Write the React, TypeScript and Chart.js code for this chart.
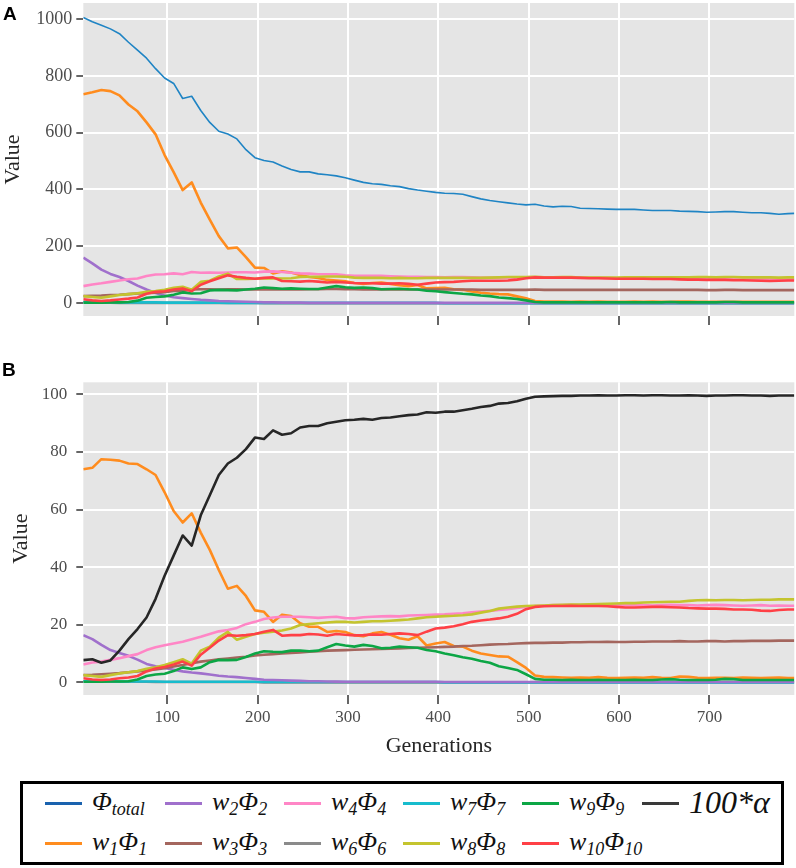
import React, { useEffect, useRef } from 'react';
import { Chart, registerables, Plugin } from 'chart.js';

Chart.register(...registerables);

// generations sampled along the x axis
const GENS = [
  7, 17, 27, 37, 47, 57, 67, 77, 87, 97,
  107, 117, 127, 137, 147, 157, 167, 177, 187, 197,
  207, 217, 227, 237, 247, 257, 267, 277, 287, 297,
  307, 317, 327, 337, 347, 357, 367, 377, 387, 397,
  407, 417, 427, 437, 447, 457, 467, 477, 487, 497,
  507, 517, 527, 537, 547, 557, 567, 577, 587, 597,
  607, 617, 627, 637, 647, 657, 667, 677, 687, 697,
  707, 717, 727, 737, 747, 757, 767, 777, 787, 794,
];

const X_TICKS = [100, 200, 300, 400, 500, 600, 700];

// ---- panel A : absolute values ----
const A_PHI_TOTAL = [
  1005, 990, 978, 965, 948, 918, 890, 862, 825, 792,
  773, 720, 728, 678, 636, 605, 595, 578, 540, 512,
  502, 497, 483, 470, 462, 462, 455, 452, 448, 441,
  433, 425, 420, 418, 413, 410, 403, 398, 394, 390,
  387, 386, 383, 375, 367, 361, 357, 353, 349, 346,
  348, 342, 339, 341, 340, 334, 333, 332, 331, 330,
  330, 330, 328, 326, 326, 326, 324, 323, 322, 320,
  321, 322, 322, 320, 318, 318, 316, 313, 315, 316,
];
const A_W1 = [
  735, 742, 750, 746, 731, 699, 675, 636, 594, 521,
  461, 398, 425, 354, 294, 236, 193, 196, 162, 125,
  124, 105, 112, 108, 99, 92, 89, 82, 80, 77,
  71, 68, 71, 73, 68, 63, 60, 64, 52, 53,
  54, 49, 47, 41, 37, 34, 32, 31, 24, 17,
  8, 6, 6, 6, 5, 6, 5, 6, 5, 5,
  5, 6, 5, 6, 5, 5, 6, 6, 5, 5,
  5, 5, 5, 5, 5, 5, 5, 5, 5, 5,
];
const A_W2 = [
  160, 140, 118, 103, 92, 78, 62, 48, 36, 27,
  21, 18, 15, 12, 10, 8, 7, 6, 5, 4,
  3, 3, 2, 2, 2, 1, 1, 1, 1, 1,
  1, 1, 1, 1, 1, 1, 1, 1, 1, 1,
  1, 1, 1, 1, 1, 1, 1, 1, 1, 1,
  1, 1, 1, 1, 1, 1, 1, 1, 1, 1,
  1, 1, 1, 1, 1, 1, 1, 1, 1, 1,
  1, 1, 1, 1, 1, 1, 1, 1, 1, 1,
];
const A_W3 = [
  25, 26, 27, 29, 30, 32, 34, 35, 37, 39,
  43, 43, 48, 49, 49, 48, 49, 49, 48, 48,
  48, 49, 48, 48, 48, 49, 49, 50, 50, 49,
  49, 48, 48, 48, 48, 48, 48, 48, 48, 48,
  48, 48, 48, 48, 47, 47, 47, 47, 47, 47,
  48, 47, 47, 47, 47, 47, 47, 47, 47, 47,
  47, 47, 47, 47, 47, 47, 47, 47, 47, 46,
  46, 47, 47, 46, 46, 46, 46, 46, 46, 46,
];
const A_W4 = [
  60, 66, 70, 75, 80, 84, 87, 96, 101, 102,
  105, 102, 110, 107, 108, 107, 108, 109, 109, 108,
  111, 112, 110, 107, 105, 104, 102, 102, 102, 98,
  96, 96, 96, 96, 95, 94, 93, 93, 92, 92,
  91, 92, 92, 91, 90, 90, 90, 90, 90, 91,
  92, 91, 91, 91, 91, 90, 90, 90, 89, 88,
  88, 88, 88, 87, 87, 88, 87, 87, 86, 86,
  86, 86, 86, 85, 85, 85, 84, 83, 84, 84,
];
const A_W6 = [
  2, 2, 2, 2, 1, 1, 1, 1, 1, 1,
  1, 1, 1, 1, 1, 1, 1, 1, 1, 1,
  0, 0, 0, 0, 0, 0, 0, 0, 0, 0,
  0, 0, 0, 0, 0, 0, 0, 0, 0, 0,
  0, 0, 0, 0, 0, 0, 0, 0, 0, 0,
  0, 0, 0, 0, 0, 0, 0, 0, 0, 0,
  0, 0, 0, 0, 0, 0, 0, 0, 0, 0,
  0, 0, 0, 0, 0, 0, 0, 0, 0, 0,
];
const A_W7 = [
  4, 4, 4, 4, 3, 3, 3, 3, 3, 2,
  2, 2, 2, 2, 2, 2, 1, 1, 1, 1,
  1, 1, 1, 1, 1, 1, 1, 1, 1, 1,
  1, 1, 1, 1, 1, 1, 1, 1, 1, 1,
  0, 0, 0, 0, 0, 0, 0, 0, 0, 0,
  0, 0, 0, 0, 0, 0, 0, 0, 0, 0,
  0, 0, 0, 0, 0, 0, 0, 0, 0, 0,
  0, 0, 0, 0, 0, 0, 0, 0, 0, 0,
];
const A_W8 = [
  25, 22, 19, 24, 29, 32, 35, 40, 43, 47,
  54, 58, 47, 75, 79, 94, 104, 85, 85, 86,
  87, 88, 87, 88, 92, 93, 93, 94, 94, 93,
  90, 89, 89, 89, 88, 89, 88, 88, 89, 89,
  89, 89, 89, 89, 89, 90, 91, 92, 92, 92,
  93, 91, 91, 92, 92, 90, 90, 90, 90, 90,
  91, 91, 91, 91, 91, 91, 91, 91, 92, 92,
  91, 92, 92, 91, 91, 91, 91, 90, 91, 91,
];
const A_W9 = [
  2, 2, 2, 3, 3, 4, 9, 19, 22, 24,
  30, 38, 34, 35, 45, 47, 46, 45, 48, 51,
  55, 53, 51, 52, 51, 50, 50, 55, 60, 56,
  54, 55, 53, 49, 50, 51, 49, 48, 44, 42,
  39, 36, 33, 31, 27, 25, 20, 18, 15, 10,
  4, 3, 3, 3, 3, 3, 3, 3, 3, 3,
  3, 3, 3, 3, 3, 4, 3, 3, 3, 3,
  3, 4, 4, 3, 3, 3, 3, 3, 3, 3,
];
const A_W10 = [
  14, 10, 8, 10, 13, 16, 20, 33, 40, 42,
  48, 52, 42, 65, 77, 88, 98, 93, 89, 86,
  89, 91, 78, 77, 76, 78, 76, 73, 75, 73,
  71, 70, 70, 69, 69, 70, 68, 65, 69, 73,
  74, 75, 77, 79, 79, 79, 79, 80, 83, 88,
  91, 90, 90, 90, 90, 89, 88, 88, 87, 86,
  86, 86, 86, 85, 85, 85, 84, 83, 83, 82,
  82, 82, 81, 81, 80, 79, 78, 79, 80, 80,
];

// ---- panel B : share of the total (%) and 100*alpha ----
const B_W1 = [
  74, 74.5, 77.5, 77.3, 77, 76, 75.8, 74, 72, 66,
  59.5, 55.5, 58.7, 52, 46, 39, 32.5, 33.5, 30, 25,
  24.5, 21, 23.5, 23, 20.5, 19.3, 19.3, 17.5, 17.8, 17.5,
  16.4, 16, 17, 17.5, 16.5, 15.3, 14.8, 16, 12.8, 13.5,
  14, 12.6, 12.4, 11, 10, 9.5, 9, 8.9, 7, 5,
  2.4, 1.9, 1.8, 1.7, 1.6, 1.7, 1.6, 1.8, 1.6, 1.5,
  1.6, 1.7, 1.6, 1.8, 1.6, 1.5, 2.0, 1.9, 1.6, 1.5,
  1.6, 1.6, 1.5, 1.7, 1.6, 1.5, 1.6, 1.7, 1.5, 1.5,
];
const B_W2 = [
  16.4, 15, 13, 11.2, 10.2, 9.2, 7.9, 6.4, 5.6, 5.0,
  4.4, 3.8, 3.4, 3.1, 2.7, 2.3, 2.0, 1.8, 1.5, 1.2,
  0.9, 0.8, 0.7, 0.6, 0.5, 0.4, 0.35, 0.3, 0.25, 0.2,
  0.2, 0.2, 0.2, 0.2, 0.2, 0.2, 0.2, 0.2, 0.2, 0.2,
  0.1, 0.1, 0.1, 0.1, 0.1, 0.1, 0.1, 0.1, 0.1, 0.1,
  0.1, 0.1, 0.1, 0.1, 0.1, 0.1, 0.1, 0.1, 0.1, 0.1,
  0.1, 0.1, 0.1, 0.1, 0.1, 0.1, 0.1, 0.1, 0.1, 0.1,
  0.1, 0.1, 0.1, 0.1, 0.1, 0.1, 0.1, 0.1, 0.1, 0.1,
];
const B_W3 = [
  2.5, 2.6, 2.8, 3.0, 3.2, 3.5, 3.8, 4.1, 4.5, 4.9,
  5.5, 6.0, 6.6, 7.2, 7.6, 8.0, 8.3, 8.6, 8.9, 9.3,
  9.6, 9.8, 10, 10.2, 10.4, 10.6, 10.8, 11, 11.1, 11.2,
  11.3, 11.4, 11.5, 11.6, 11.7, 11.8, 11.9, 12, 12.1, 12.2,
  12.3, 12.4, 12.6, 12.7, 12.9, 13.1, 13.2, 13.3, 13.5, 13.6,
  13.7, 13.7, 13.8, 13.8, 13.9, 13.9, 14, 14, 14.1, 14,
  14, 14.1, 14.1, 14.2, 14.2, 14.2, 14.3, 14.2, 14.2, 14.3,
  14.3, 14.2, 14.3, 14.3, 14.4, 14.4, 14.4, 14.5, 14.5, 14.5,
];
const B_W4 = [
  6.2, 6.9, 7.2, 7.8, 8.4, 9.1, 9.8, 11.2, 12.2, 12.9,
  13.5, 14.1, 15, 15.8, 16.8, 17.7, 18.2, 18.9, 20.2, 21,
  22, 22.5, 22.8, 22.8, 22.8, 22.6, 22.4, 22.6, 22.8, 22.3,
  22.2, 22.6, 22.8, 22.9, 23, 22.9, 23.2, 23.3, 23.4, 23.5,
  23.6, 23.8, 24, 24.3, 24.6, 24.8, 25.1, 25.4, 25.8, 26.2,
  26.5, 26.7, 26.8, 26.8, 26.9, 26.8, 26.9, 27, 26.9, 26.8,
  26.8, 26.9, 26.8, 26.7, 26.8, 26.9, 26.8, 26.8, 26.7, 26.8,
  26.9, 26.8, 26.7, 26.6, 26.7, 26.8, 26.6, 26.7, 26.6, 26.6,
];
const B_W6 = [
  0.3, 0.3, 0.3, 0.2, 0.2, 0.2, 0.2, 0.2, 0.1, 0.1,
  0.1, 0.1, 0.1, 0.1, 0.1, 0.1, 0.1, 0.1, 0.1, 0.1,
  0, 0, 0, 0, 0, 0, 0, 0, 0, 0,
  0, 0, 0, 0, 0, 0, 0, 0, 0, 0,
  0, 0, 0, 0, 0, 0, 0, 0, 0, 0,
  0, 0, 0, 0, 0, 0, 0, 0, 0, 0,
  0, 0, 0, 0, 0, 0, 0, 0, 0, 0,
  0, 0, 0, 0, 0, 0, 0, 0, 0, 0,
];
const B_W7 = [
  0.4, 0.4, 0.4, 0.4, 0.3, 0.3, 0.3, 0.3, 0.3, 0.2,
  0.2, 0.2, 0.2, 0.2, 0.2, 0.2, 0.2, 0.2, 0.2, 0.2,
  0.1, 0.1, 0.1, 0.1, 0.1, 0.1, 0.1, 0.1, 0.1, 0.1,
  0.1, 0.1, 0.1, 0.1, 0.1, 0.1, 0.1, 0.1, 0.1, 0.1,
  0, 0, 0, 0, 0, 0, 0, 0, 0, 0,
  0, 0, 0, 0, 0, 0, 0, 0, 0, 0,
  0, 0, 0, 0, 0, 0, 0, 0, 0, 0,
  0, 0, 0, 0, 0, 0, 0, 0, 0, 0,
];
const B_W8 = [
  2.5, 2.2, 1.9, 2.5, 3.1, 3.5, 3.9, 4.7, 5.2, 6,
  7, 8, 6.5, 11, 12.4, 15.5, 17.5, 14.8, 15.8, 16.8,
  17.2, 17.6, 18, 18.7, 19.9, 20.2, 20.5, 20.8, 21, 21,
  20.8, 21, 21.2, 21.2, 21.4, 21.6, 21.8, 22.2, 22.6, 22.8,
  23, 23.1, 23.3, 23.6, 24.2, 24.8, 25.6, 26, 26.3, 26.5,
  26.6, 26.7, 26.8, 26.9, 27, 27, 27.1, 27.2, 27.3, 27.4,
  27.5, 27.5, 27.7, 27.8, 27.9, 28, 28, 28.3, 28.5, 28.6,
  28.5, 28.6, 28.6, 28.5, 28.6, 28.7, 28.7, 28.8, 28.8, 28.8,
];
const B_W9 = [
  0.2, 0.2, 0.2, 0.3, 0.3, 0.4, 1.0, 2.2, 2.7, 3.0,
  3.9, 5.2, 4.6, 5.2, 7.0, 7.8, 7.7, 7.8, 8.8, 10,
  10.8, 10.6, 10.5, 11, 11, 10.8, 11, 12.2, 13.3, 12.8,
  12.4, 13, 12.6, 11.8, 12, 12.4, 12.2, 12, 11.2, 10.8,
  10, 9.4, 8.7, 8.2, 7.4, 6.8, 5.6, 5.0, 4.3, 2.8,
  1.2, 0.9, 0.9, 0.8, 0.9, 0.8, 0.8, 0.9, 0.8, 0.8,
  0.8, 0.9, 0.8, 0.8, 1.0, 1.1, 0.9, 0.8, 0.8, 0.8,
  0.9, 1.2, 1.1, 0.8, 0.8, 0.8, 0.8, 0.8, 0.8, 0.8,
];
const B_W10 = [
  1.4, 1.0, 0.8, 1.0, 1.4, 1.7, 2.2, 3.8, 4.8, 5.3,
  6.2, 7.2, 5.8, 9.6, 12, 14.5, 16.4, 16.2, 16.4, 16.8,
  17.6, 18.2, 16.2, 16.4, 16.4, 16.8, 16.6, 16.2, 16.8, 16.5,
  16.3, 16.4, 16.6, 16.5, 16.8, 17, 16.8, 16.4, 17.6, 18.7,
  19, 19.5, 20.2, 21, 21.5, 21.8, 22.2, 22.8, 23.8, 25.4,
  26.2, 26.4, 26.5, 26.5, 26.6, 26.5, 26.5, 26.5, 26.4, 26.2,
  26, 26, 26.1, 26.2, 26.2, 26.1, 26, 25.8, 25.7, 25.6,
  25.6, 25.5, 25.3, 25.3, 25.2, 24.9, 24.8, 25.1, 25.3, 25.3,
];
const B_ALPHA = [
  7.7, 8.0, 6.8, 7.6, 11, 15, 18.5, 22.5, 29, 37,
  44, 51, 47.5, 58, 65, 72, 76, 78, 81, 85,
  84.5, 87.5, 86, 86.5, 88.5, 89, 89, 90, 90.5, 91,
  91.2, 91.5, 91.2, 91.8, 92, 92.4, 92.8, 93, 93.8, 93.6,
  94, 94, 94.5, 95, 95.6, 96, 96.8, 97, 97.6, 98.5,
  99.2, 99.3, 99.4, 99.5, 99.5, 99.6, 99.6, 99.7, 99.6, 99.6,
  99.7, 99.7, 99.6, 99.7, 99.7, 99.6, 99.6, 99.7, 99.6, 99.5,
  99.6, 99.6, 99.7, 99.7, 99.6, 99.6, 99.5, 99.6, 99.6, 99.6,
];

const COLORS: Record<string, string> = {
  phi: '#1f84c4',
  w1: '#ff8c1e',
  w2: '#a070cc',
  w3: '#a4665e',
  w4: '#ff86c6',
  w6: '#8a8a8a',
  w7: '#17bccd',
  w8: '#c4c42e',
  w9: '#0ca645',
  w10: '#ff4046',
  alpha: '#262626',
};

type Series = { key: string; width: number; values: number[] };

// listed from bottom-most to top-most drawing layer
const SERIES_A: Series[] = [
  { key: 'w6', width: 2.6, values: A_W6 },
  { key: 'w7', width: 2.6, values: A_W7 },
  { key: 'phi', width: 1.6, values: A_PHI_TOTAL },
  { key: 'w1', width: 2.6, values: A_W1 },
  { key: 'w2', width: 2.6, values: A_W2 },
  { key: 'w3', width: 2.6, values: A_W3 },
  { key: 'w4', width: 2.6, values: A_W4 },
  { key: 'w8', width: 2.6, values: A_W8 },
  { key: 'w9', width: 2.6, values: A_W9 },
  { key: 'w10', width: 2.6, values: A_W10 },
];

const SERIES_B: Series[] = [
  { key: 'w6', width: 2.6, values: B_W6 },
  { key: 'w7', width: 2.6, values: B_W7 },
  { key: 'w1', width: 2.6, values: B_W1 },
  { key: 'w2', width: 2.6, values: B_W2 },
  { key: 'w3', width: 2.6, values: B_W3 },
  { key: 'w4', width: 2.6, values: B_W4 },
  { key: 'w8', width: 2.6, values: B_W8 },
  { key: 'w9', width: 2.6, values: B_W9 },
  { key: 'w10', width: 2.6, values: B_W10 },
  { key: 'alpha', width: 2.6, values: B_ALPHA },
];

const SERIF = "'Liberation Serif', 'DejaVu Serif', serif";

// grey panel behind the plot area, ggplot style
const panelBg: Plugin = {
  id: 'panelBg',
  beforeDraw(chart) {
    const { ctx, chartArea } = chart;
    if (!chartArea) return;
    ctx.save();
    ctx.fillStyle = '#E5E5E5';
    ctx.fillRect(chartArea.left, chartArea.top, chartArea.right - chartArea.left, chartArea.bottom - chartArea.top);
    ctx.restore();
  },
};

interface PanelProps {
  top: number;
  height: number;
  padTop: number;
  xAxisH: number;
  series: Series[];
  yMin: number;
  yMax: number;
  yStep: number;
  showX: boolean;
  tickSize: number;
  yTickPad: number;
  yTitlePad: number;
}

const Panel: React.FC<PanelProps> = (p) => {
  const canvasRef = useRef<HTMLCanvasElement | null>(null);

  useEffect(() => {
    if (!canvasRef.current) return;
    const chart = new Chart(canvasRef.current, {
      type: 'line',
      data: {
        datasets: p.series.map((s, i) => ({
          label: s.key,
          data: GENS.map((g, j) => ({ x: g, y: s.values[j] })),
          borderColor: COLORS[s.key],
          backgroundColor: COLORS[s.key],
          borderWidth: s.width,
          pointRadius: 0,
          tension: 0,
          fill: false,
          borderJoinStyle: 'round' as const,
          order: -i,
        })),
      },
      options: {
        animation: false,
        responsive: false,
        events: [],
        layout: { padding: { top: p.padTop, right: 1.7, left: 0, bottom: 0 } },
        plugins: { legend: { display: false }, tooltip: { enabled: false } },
        scales: {
          x: {
            type: 'linear',
            min: 7,
            max: 794,
            afterFit: (s: any) => {
              s.height = p.xAxisH;
              s.paddingLeft = 0;
              s.paddingRight = 0;
            },
            border: { display: false },
            grid: { color: '#FFFFFF', lineWidth: 2, tickColor: '#333333', tickWidth: 1.5, tickLength: 9 },
            afterBuildTicks: (s: any) => {
              s.ticks = X_TICKS.map((v) => ({ value: v }));
            },
            ticks: {
              display: p.showX,
              includeBounds: false,
              padding: 3,
              maxRotation: 0,
              color: '#4D4D4D',
              font: { family: SERIF, size: p.tickSize },
              callback: (v: any) => String(v),
            },
            title: {
              display: p.showX,
              text: 'Generations',
              color: '#262626',
              font: { family: SERIF, size: 22 },
              padding: { top: 0, bottom: 1 },
            },
          },
          y: {
            type: 'linear',
            min: p.yMin,
            max: p.yMax,
            afterFit: (s: any) => {
              s.width = 83.3;
              s.paddingTop = 0;
              s.paddingBottom = 0;
            },
            border: { display: false },
            grid: { color: '#FFFFFF', lineWidth: 2, tickColor: '#333333', tickWidth: 1.5, tickLength: 7 },
            ticks: {
              stepSize: p.yStep,
              includeBounds: false,
              padding: p.yTickPad,
              color: '#4D4D4D',
              font: { family: SERIF, size: p.tickSize },
              callback: (v: any) => String(v),
            },
            title: {
              display: true,
              text: 'Value',
              color: '#262626',
              font: { family: SERIF, size: 22 },
              padding: { top: p.yTitlePad, bottom: 0 },
            },
          },
        },
      },
      plugins: [panelBg],
    });
    return () => {
      chart.destroy();
    };
  }, []);

  return (
    <canvas
      ref={canvasRef}
      width={796}
      height={p.height}
      style={{ position: 'absolute', left: 0, top: p.top, width: 796, height: p.height }}
    />
  );
};

// legend, column-major like the original (6 columns, 2 rows)
const LEGEND_ORDER = ['phi', 'w2', 'w4', 'w7', 'w9', 'alpha', 'w1', 'w3', 'w6', 'w8', 'w10'];
const LEGEND_X = [45, 165, 284, 403, 522, 642];
const LEGEND_Y = [803, 843];

const Sub: React.FC<{ t: string }> = ({ t }) => (
  <span style={{ fontSize: 18, position: 'relative', top: 5 }}>{t}</span>
);

function legendLabel(key: string) {
  if (key === 'phi') return <>Φ<Sub t="total" /></>;
  if (key === 'alpha') return <span style={{ fontSize: 32 }}>100*α</span>;
  const n = key.slice(1);
  return <>w<Sub t={n} />Φ<Sub t={n} /></>;
}

const LEGEND_LINE: Record<string, string> = {
  phi: '#1a62ae',
  alpha: '#3a3a3a',
};

export default function App() {
  return (
    <div style={{ position: 'absolute', left: 0, top: 0, width: 796, height: 868, background: '#fff', overflow: 'hidden' }}>
      <Panel top={0} height={335} padTop={3} xAxisH={19} series={SERIES_A}
        yMin={-45} yMax={1056} yStep={200} showX={false} tickSize={18} yTickPad={4} yTitlePad={0} />
      <Panel top={330} height={430} padTop={52.3} xAxisH={65} series={SERIES_B}
        yMin={-4.4} yMax={104.2} yStep={20} showX={true} tickSize={17} yTickPad={9} yTitlePad={8} />
      <div style={{ position: 'absolute', left: 3, top: 4, font: "bold 19px 'Liberation Sans', Arial, sans-serif", lineHeight: '19px' }}>A</div>
      <div style={{ position: 'absolute', left: 2, top: 360, font: "bold 19px 'Liberation Sans', Arial, sans-serif", lineHeight: '19px' }}>B</div>
      <div style={{ position: 'absolute', left: 20, top: 781, width: 764, height: 84, border: '3px solid #000', boxSizing: 'border-box' }} />
      {LEGEND_ORDER.map((key, i) => {
        const row = i < 6 ? 0 : 1;
        const col = i < 6 ? i : i - 6;
        return (
          <div key={key} style={{ position: 'absolute', left: LEGEND_X[col], top: LEGEND_Y[row] - 20, height: 40, display: 'flex', alignItems: 'center', whiteSpace: 'nowrap' }}>
            <span style={{ display: 'inline-block', width: 37, height: 3, background: LEGEND_LINE[key] || COLORS[key], marginRight: 10 }} />
            <span style={{ fontFamily: SERIF, fontStyle: 'italic', fontSize: 26, lineHeight: '40px', color: '#111' }}>{legendLabel(key)}</span>
          </div>
        );
      })}
    </div>
  );
}
